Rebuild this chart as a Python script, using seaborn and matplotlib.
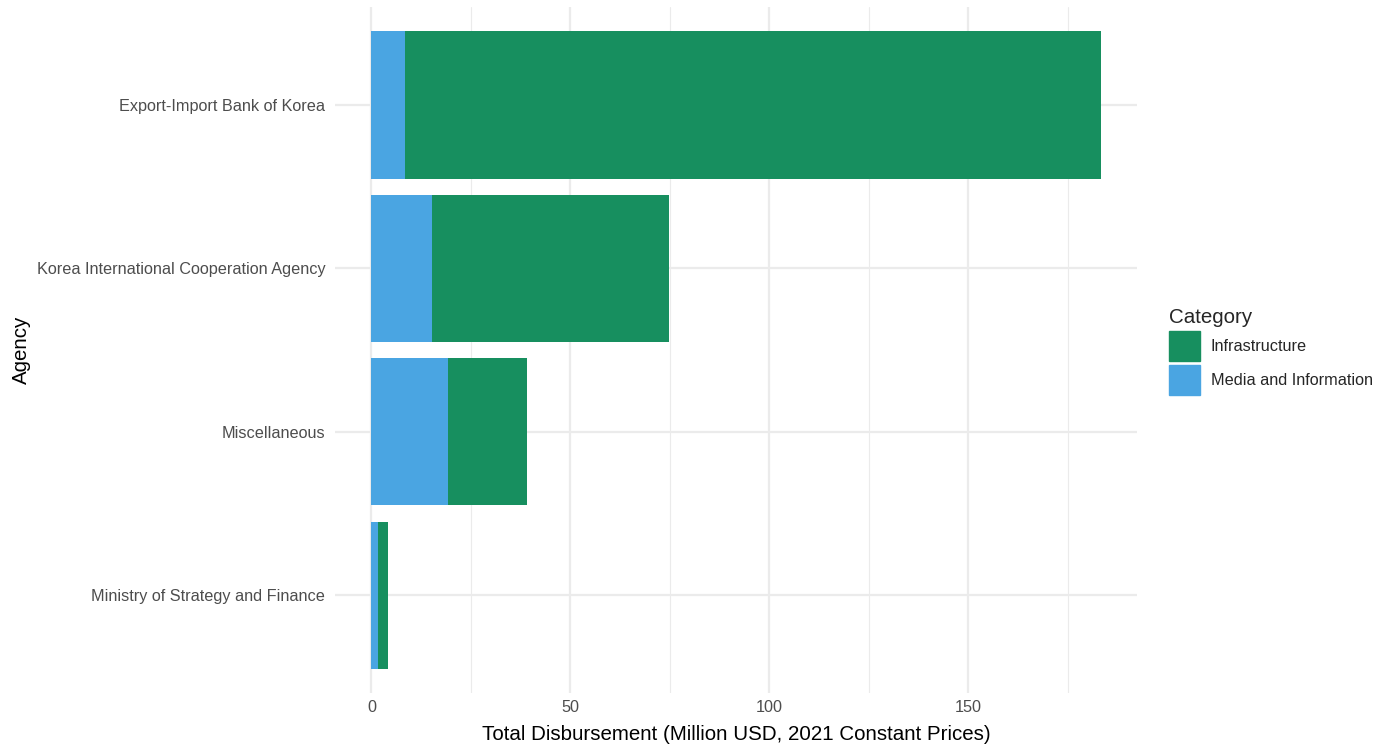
import numpy as np
import pandas as pd
import matplotlib
matplotlib.use('Agg')
import matplotlib.pyplot as plt
import matplotlib.patches as mpatches
from matplotlib.ticker import MultipleLocator
import seaborn as sns

# values (million USD)
agencies = ['Export-Import Bank of Korea',
            'Korea International Cooperation Agency',
            'Miscellaneous',
            'Ministry of Strategy and Finance']
media = [8.4, 15.2, 19.3, 1.7]
infrastructure = [174.9, 59.6, 19.7, 2.4]

green = '#178F5F'
blue = '#4AA5E2'

df = pd.DataFrame({'Agency': agencies, 'Media': media, 'Infrastructure': infrastructure})
df['Total'] = df['Media'] + df['Infrastructure']

sns.set_theme(style='white')
plt.rcParams['font.family'] = ['Liberation Sans', 'DejaVu Sans']

fig = plt.figure(figsize=(13.88, 7.44), dpi=100)
ax = fig.add_axes([0.2413, 0.0685, 0.5779, 0.9221])

# stacked: total first (green), media on top of it from zero (blue)
sns.barplot(data=df, x='Total', y='Agency', color=green, saturation=1, width=0.9,
            orient='h', ax=ax, linewidth=0, zorder=2)
sns.barplot(data=df, x='Media', y='Agency', color=blue, saturation=1, width=0.9,
            orient='h', ax=ax, linewidth=0, zorder=3)

xmax = df['Total'].max()
ax.set_xlim(-0.05 * xmax, xmax * 1.05)
ax.set_ylim(3.6, -0.6)
ax.xaxis.set_major_locator(MultipleLocator(50))
ax.xaxis.set_minor_locator(MultipleLocator(25))
ax.grid(True, which='major', axis='both', color='#EBEBEB', linewidth=1.6, zorder=0)
ax.grid(True, which='minor', axis='x', color='#EBEBEB', linewidth=0.8, zorder=0)
ax.set_axisbelow(True)
for s in ax.spines.values():
    s.set_visible(False)
ax.tick_params(axis='both', length=0, labelsize=11.7, labelcolor='#4D4D4D')
ax.tick_params(axis='y', pad=7)
ax.tick_params(axis='x', pad=5)
ax.set_xlabel('Total Disbursement (Million USD, 2021 Constant Prices)', fontsize=14.8,
              color='black', labelpad=7)
ax.set_ylabel('Agency', fontsize=14.8, color='black', labelpad=4)

handles = [mpatches.Patch(color=green, label='Infrastructure'),
           mpatches.Patch(color=blue, label='Media and Information')]
leg = fig.legend(handles=handles, title='Category', loc='center left',
                 bbox_to_anchor=(0.832, 0.528), frameon=False, fontsize=11.7,
                 title_fontsize=14.8, handlelength=1.85, handleheight=2.46,
                 labelspacing=0.25, handletextpad=0.7, alignment='left')

fig.savefig('out.png', dpi=100)
